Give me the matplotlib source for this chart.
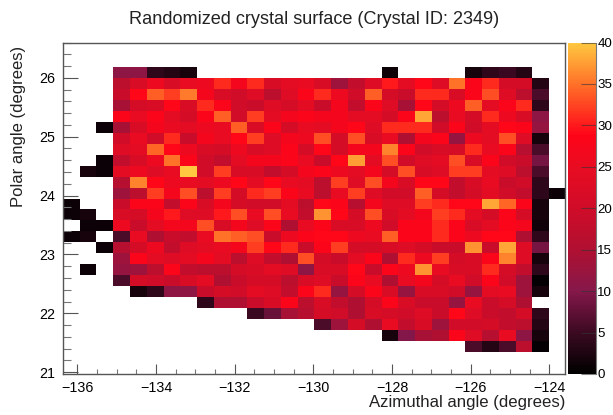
import numpy as np
import matplotlib
matplotlib.use('Agg')
import matplotlib.pyplot as plt
from matplotlib.colors import LinearSegmentedColormap

plt.rcParams['font.family'] = ['Liberation Sans', 'DejaVu Sans']

n = np.nan

# counts per bin, top row of the plot first
row_26_5 = [n]*30
row_26_3 = [n]*30
row_26_1 = [n,n,n,11,11,4,3,2,n,n,n,n,n,n,n,n,n,n,n,1,n,n,n,n,2,4,5,3,n,n]
row_25_9 = [n,n,n,17,22,26,22,25,26,31,27,31,22,24,25,22,13,18,23,30,24,29,23,35,28,31,21,21,3,n]
row_25_7 = [n,n,n,19,29,34,32,35.5,27,22,20,23,17,23,28,31,26,20,34,21,19,31,31,22,28,33,23,17,6,n]
row_25_5 = [n,n,n,14,21,22,29,22,31,28,20,19,23,21,24,19,27,18,28,23,14,29,21,26,34,24,28,31,4,n]
row_25_3 = [n,n,n,28,25,28,24,21,28,34,20,32,24,27,28,27,27,24,24,21,28,38,17,25,21,31,26,22,11,n]
row_25_1 = [n,n,1,14,22,27,25,24,26,25,34,22,28,21,25,24,27,29,23,31,31,31,20,28,20,24,29,28,12,n]
row_24_9 = [n,n,n,20,25,20,31,19,27,25,29,32,23,27,26,33,21,33,22,25,15,27,28,12,26,24,33,23,2,n]
row_24_7 = [n,n,n,23,24,34.5,29,26,22,21,26,22,23,28,21,29,21,27,27,36,28,20,22,21,31,25,28,16,6,n]
row_24_5 = [n,n,1,18,22,26,35,28,20,18,24,27,27,28,25,19,29,37.5,24,33,20,23,24,33,22,28,20,19,9,n]
row_24_3 = [n,2,1,24,26,23,25,40,20,32,22,22,18,21,27,28,26,24,27,21,33,22,23,32,32,24,23,17,6,n]
row_24_1 = [n,n,n,16,36,29,26,25,24,26,29,24,29,25,24,17,32,23,33,27,22,29,29,18,22,25,19,20,4,n]
row_23_9 = [n,n,n,13,17,32,27,33,17,32,21,31,32,28,25,17,25,32,23,20,20,34,21,18,21,24,20,18,4,1]
row_23_7 = [1,n,n,19,28,28,18,28,22,27,21,20,20,24,17,29,28,16,27,23,23,32,31,29,29,38,34.5,28,2,n]
row_23_5 = [1,2,n,22,21,27,30,23,23,30,33,25,33,25,18,37,29,21,33,22,24,27,32,31,24,21,28,21,2,n]
row_23_3 = [n,1,1,26,19,24,27,27,33,22,27,23,28,15,25,28,22,22,26,20,28,28,31,28,22,24,28,27,1.5,n]
row_23_1 = [1,2,n,6,25,15,19,18,25,35,34,33,19,26,28,29,29,26,25,34,28,28,31,28,26,29,29,15,4,n]
row_22_9 = [n,n,1,16,21,26,18,23,24,25,27,32,29,31,19,28,32,21,21,22,23,21,19,19,37,19,38,23,9,n]
row_22_7 = [n,n,n,13,28,24,23,24,27,24,17,23,18,15,33,21,19,24,28,15,31,26,32,21,22,28,36,23,2,n]
row_22_5 = [n,1,n,12,13,17,28,18,17,17,21,22,24,23,11,22,22,29,19,28,26,37,25,22,22,31,21,18,4,n]
row_22_3 = [n,n,n,6,21,20,19,22,24,15,19,21,21,17,22,23,19,28,25,15,25,27,21,25,20,28,20,13,0.5,n]
row_22_1 = [n,n,n,n,2,4,11,11,19,21,20,24,23,18,28,31,12,21,28,22,12,22,22,20,12,24,25,13,2,n]
row_21_9 = [n,n,n,n,n,n,n,n,4,15,15,19,22,28,17,22,18,15,21,28,22,19,19,12,25,19,21,15,n,n]
row_21_7 = [n,n,n,n,n,n,n,n,n,n,n,5,8,14,16,21,20,15,22,21,20,23,19,29,23,19,18,21,4,n]
row_21_5 = [n,n,n,n,n,n,n,n,n,n,n,n,n,n,n,6,13,21,15,25,18,22,13,20,20,21,18,17,3,n]
row_21_3 = [n,n,n,n,n,n,n,n,n,n,n,n,n,n,n,n,n,n,n,2,10,14,15,28,23,16,25,11,2,n]
row_21_1 = [n,n,n,n,n,n,n,n,n,n,n,n,n,n,n,n,n,n,n,n,n,n,n,n,6,3,6,17,0.5,n]
row_20_9 = [n]*30
row_20_7 = [n]*30

counts = np.array([row_26_5, row_26_3, row_26_1, row_25_9, row_25_7, row_25_5, row_25_3,
                   row_25_1, row_24_9, row_24_7, row_24_5, row_24_3, row_24_1, row_23_9,
                   row_23_7, row_23_5, row_23_3, row_23_1, row_22_9, row_22_7, row_22_5,
                   row_22_3, row_22_1, row_21_9, row_21_7, row_21_5, row_21_3, row_21_1,
                   row_20_9, row_20_7])

cmap = LinearSegmentedColormap.from_list('crystal', [
    (0.0, '#000000'), (0.125, '#3c0a22'), (0.25, '#85184a'), (0.375, '#b01032'),
    (0.5, '#d00c28'), (0.625, '#e80c22'), (0.72, '#ff0418'), (0.75, '#ff181c'),
    (0.875, '#ff7028'), (1.0, '#ffc840')], N=255)

fig = plt.figure(figsize=[6.13, 4.15], dpi=100)
W, H = 613.0, 415.0
ax = fig.add_axes([62.5/W, 1-374/H, (565-62.5)/W, (374-42.5)/H])
mesh = ax.imshow(counts, cmap=cmap, vmin=0, vmax=40, aspect='auto', interpolation='nearest',
                 extent=[-136.38, -123.60, 20.97, 26.55])

ax.set_xticks(np.arange(-136, -123, 2))
ax.set_xticks(np.arange(-136, -123.5, 0.5), minor=True)
ax.set_yticks(np.arange(21, 27, 1))
ax.set_yticks(np.arange(21, 26.6, 0.2), minor=True)
ax.tick_params(axis='x', which='major', direction='in', length=7, width=0.8, color='#555555', labelsize=10.3, pad=5)
ax.tick_params(axis='x', which='minor', direction='in', length=3.5, width=0.8, color='#777777')
ax.tick_params(axis='y', which='major', direction='in', length=11, width=0.8, color='#555555', labelsize=10.3, pad=5)
ax.tick_params(axis='y', which='minor', direction='in', length=5.5, width=0.8, color='#777777')
for s in ax.spines.values():
    s.set_color('#555555')
    s.set_linewidth(1.0)

cax = fig.add_axes([568/W, 1-374/H, 28/W, (374-42.5)/H])
cb = fig.colorbar(mesh, cax=cax)
cb.set_ticks(np.arange(0, 41, 5))
cb.ax.tick_params(direction='in', length=10.5, width=0.8, color='#33333399', labelsize=9.6, pad=1)
cb.outline.set_visible(False)
cb.ax.spines['right'].set_visible(True)
cb.ax.spines['right'].set_color('#777777')
cb.ax.spines['right'].set_linewidth(0.8)

fig.text(314.5/W, 1-19.5/H, 'Randomized crystal surface (Crystal ID: 2349)', ha='center', va='center', fontsize=13.1, color='#222222')
fig.text(565/W, 1-402/H, 'Azimuthal angle (degrees)', ha='right', va='center', fontsize=12.1, color='#222222')
fig.text(19/W, 1-126.5/H, 'Polar angle (degrees)', ha='center', va='center', rotation=90, fontsize=12, color='#222222')

plt.savefig('out.png', dpi=100)
plt.close(fig)
